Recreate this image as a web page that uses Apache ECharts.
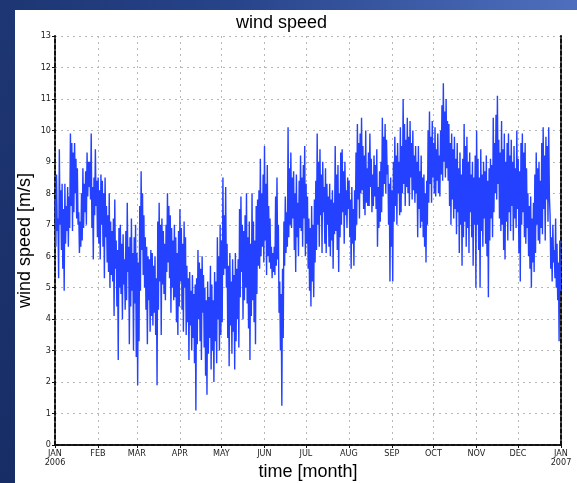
<!DOCTYPE html>
<html>
<head>
<meta charset="utf-8">
<script src="https://cdn.jsdelivr.net/npm/echarts@6/dist/echarts.min.js"></script>
<style>
  html, body { margin: 0; padding: 0; }
  body { width: 577px; height: 483px; position: relative; overflow: hidden;
         background: linear-gradient(to right, #1d3572 0%, #27448a 40%, #4f6fbe 100%); }
  #side { position: absolute; left: 0; top: 0; width: 15px; height: 483px;
          background: linear-gradient(to bottom, #1e3673 0%, #172d66 100%); }
  #paper { position: absolute; left: 15px; top: 10px; right: 0; bottom: 0; background: #fff; }
  #chart { position: absolute; left: 0; top: 0; width: 577px; height: 483px; }
</style>
</head>
<body>
<div id="side"></div>
<div id="paper"></div>
<div id="chart"></div>
<script>
// Wind speed 2006, two readings per day (m/s), one array per month
const jan = [7.8,6.3, 8.6,6.8, 7.2,5.3, 9.4,7.0, 8.1,6.2, 8.3,5.6, 7.5,4.9, 8.3,6.4, 7.6,6.8, 8.2,6.3, 7.9,6.9, 9.9,7.6, 9.6,6.8, 9.3,7.4, 9.6,8.0, 9.1,7.2, 8.8,7.0, 7.4,6.1, 7.1,6.3, 8.0,6.5, 8.8,6.9, 8.3,7.4, 8.7,7.0, 9.3,7.9, 9.0,8.2, 9.0,7.8, 9.9,6.9, 8.2,5.9, 8.5,7.3, 9.4,7.6, 8.4,6.6];
const feb = [8.5,6.4, 8.1,5.9, 8.6,7.0, 8.4,6.3, 8.0,5.3, 8.5,6.6, 7.6,5.8, 7.3,5.5, 8.0,5.0, 7.1,5.4, 6.8,5.2, 7.2,4.1, 7.8,5.6, 6.5,4.4, 6.2,2.7, 6.9,5.0, 7.0,4.8, 6.4,4.0, 6.7,5.1, 5.9,4.3, 6.8,4.6, 7.7,5.5, 6.3,3.2, 6.6,4.4, 7.2,4.9, 6.1,3.0, 6.6,4.5, 7.0,2.8];
const mar = [6.1,1.9, 5.8,3.3, 7.6,4.9, 8.7,6.2, 8.0,5.4, 7.3,5.0, 6.6,4.3, 6.3,3.2, 6.0,4.6, 5.9,3.6, 6.2,4.1, 6.1,3.8, 5.7,4.2, 6.0,3.5, 5.3,1.9, 7.1,4.3, 7.7,5.2, 7.0,3.5, 7.2,5.1, 6.8,4.8, 6.4,4.6, 7.0,5.5, 8.0,5.8, 7.6,5.3, 7.3,4.2, 6.9,5.0, 6.5,4.6, 7.0,4.7, 6.6,3.9, 6.1,3.5, 6.8,4.4];
const apr = [7.5,5.2, 6.9,4.3, 6.4,3.6, 7.1,5.0, 6.6,3.5, 5.7,3.9, 5.3,2.7, 5.5,3.8, 4.9,3.0, 5.4,3.4, 4.8,2.6, 5.1,1.1, 5.3,3.2, 6.2,4.0, 5.8,3.3, 5.6,2.7, 6.0,4.2, 5.4,3.1, 5.0,2.2, 4.6,1.6, 5.2,2.9, 4.7,3.4, 5.7,2.4, 5.1,3.0, 4.6,2.0, 5.5,3.3, 5.2,2.6, 6.6,4.0, 6.0,3.0, 7.0,3.5];
const may = [6.5,3.9, 8.5,5.4, 7.3,5.6, 8.2,5.0, 6.4,3.4, 5.7,2.5, 6.1,3.8, 5.2,2.9, 5.9,3.6, 5.4,2.4, 6.1,3.3, 5.6,4.0, 5.9,3.1, 7.5,4.7, 7.9,5.5, 7.0,4.0, 6.8,4.6, 7.3,5.0, 8.0,4.5, 6.6,3.7, 7.1,2.7, 6.4,4.1, 8.0,4.6, 7.1,3.9, 6.5,3.2, 7.6,4.8, 7.8,5.7, 8.1,5.6, 9.1,6.0, 8.0,6.3, 8.6,5.8];
const jun = [9.5,6.5, 8.3,5.4, 8.9,6.0, 7.6,5.8, 7.2,5.6, 6.3,5.3, 6.1,5.5, 6.3,5.4, 7.9,5.7, 8.5,5.9, 7.0,4.2, 5.2,3.0, 4.8,1.25, 5.6,3.4, 7.1,5.7, 7.9,6.1, 7.4,6.3, 10.1,6.6, 8.8,7.0, 9.3,6.9, 8.5,7.2, 8.7,6.2, 8.0,5.5, 8.6,6.6, 7.7,6.0, 8.4,6.9, 9.2,6.8, 8.5,6.3, 8.9,7.2, 9.5,6.0];
const jul = [8.3,6.4, 7.9,5.6, 7.2,4.9, 6.9,4.4, 7.6,5.2, 7.0,4.7, 7.8,5.8, 8.4,6.2, 9.9,7.0, 9.0,6.3, 9.4,7.3, 8.6,6.1, 9.0,7.4, 8.2,6.4, 8.8,6.1, 8.3,7.0, 7.9,6.3, 8.3,6.0, 7.8,6.5, 8.1,5.6, 7.7,6.7, 9.5,6.8, 8.6,6.2, 8.9,5.5, 8.0,6.6, 9.3,7.0, 9.4,7.4, 8.7,6.4, 9.0,7.3, 8.1,6.9, 8.5,7.5];
const aug = [8.4,6.6, 7.8,5.6, 8.2,6.4, 7.5,5.7, 8.1,6.5, 9.3,7.0, 10.2,7.8, 9.6,7.2, 9.9,8.0, 10.4,8.1, 9.5,7.5, 9.2,7.3, 10.0,7.7, 8.8,7.6, 9.3,7.6, 9.9,8.2, 9.1,7.4, 8.6,7.6, 9.2,7.9, 8.9,7.5, 9.4,6.3, 8.2,6.9, 8.7,7.1, 9.0,7.4, 10.4,7.9, 9.8,8.3, 10.2,8.0, 9.7,8.6, 8.9,7.0, 8.3,5.2, 8.5,6.3];
const sep = [8.1,5.2, 9.0,7.1, 9.8,7.6, 9.2,7.0, 9.6,8.0, 9.0,7.3, 10.1,7.4, 9.5,8.0, 11.0,8.3, 10.2,7.6, 9.7,8.2, 10.4,8.0, 9.8,7.6, 10.3,8.5, 9.6,7.8, 10.0,8.1, 9.2,7.7, 9.5,8.0, 9.0,6.6, 9.5,7.5, 8.7,6.9, 9.2,7.1, 8.5,6.6, 8.6,6.3, 8.0,5.8, 8.4,7.0, 10.0,7.7, 10.6,8.3, 9.8,7.7, 10.3,8.5];
const oct = [9.6,8.0, 10.1,7.9, 9.4,8.4, 9.9,8.0, 9.2,7.9, 10.0,8.6, 10.8,8.4, 11.5,9.0, 10.6,8.5, 11.0,8.8, 10.3,8.4, 10.2,7.6, 9.6,7.0, 9.9,7.8, 9.4,7.2, 9.8,7.5, 9.1,6.7, 9.6,7.4, 8.8,6.1, 9.3,7.0, 8.6,5.7, 9.1,6.6, 10.2,7.1, 9.5,6.3, 9.8,6.9, 9.0,6.1, 9.3,7.4, 8.6,6.6, 9.0,5.7, 8.5,7.0, 9.2,5.0];
const nov = [10.0,7.0, 9.1,6.2, 8.5,5.0, 9.4,6.8, 8.6,6.3, 9.0,7.2, 8.7,6.4, 9.2,6.0, 8.4,4.7, 8.8,6.5, 9.1,7.2, 8.9,6.6, 10.4,7.4, 9.6,8.0, 10.5,7.8, 11.1,8.3, 9.7,7.2, 9.3,6.8, 10.3,7.0, 9.4,6.2, 9.9,5.9, 9.0,7.1, 9.6,6.5, 9.9,7.4, 9.2,6.8, 9.7,7.6, 9.0,6.5, 9.5,7.2, 8.8,6.9, 10.0,7.5];
const dec = [9.1,6.1, 8.7,5.2, 9.6,7.0, 9.9,7.4, 9.3,6.6, 9.6,6.4, 8.8,6.9, 8.0,6.0, 7.6,5.6, 7.9,5.0, 7.2,5.8, 7.7,5.5, 8.6,6.1, 9.3,7.0, 8.8,6.5, 9.0,6.4, 8.4,6.9, 9.6,6.7, 10.1,7.5, 9.2,6.5, 9.8,7.8, 9.5,7.1, 10.1,7.9, 7.3,5.6, 6.6,5.2, 7.0,5.8, 6.2,5.3, 7.2,5.0, 6.4,4.6, 5.8,3.3, 6.5,4.9];

const monthNames = ['JAN','FEB','MAR','APR','MAY','JUN','JUL','AUG','SEP','OCT','NOV','DEC'];
const startTime = Date.UTC(2006, 0, 1);
const endTime = Date.UTC(2007, 0, 1);
const step = 12 * 3600 * 1000;   // readings are 12 hours apart

const speeds = [].concat(jan, feb, mar, apr, may, jun, jul, aug, sep, oct, nov, dec);
const seriesData = speeds.map((v, i) => [startTime + 3 * 3600 * 1000 + i * step, v]);

const chart = echarts.init(document.getElementById('chart'), null, { renderer: 'canvas' });

const tickFont = { fontFamily: 'Liberation Sans Narrow, DejaVu Sans Condensed, sans-serif', fontSize: 9, color: '#222' };
const frameLine = { show: true, lineStyle: { color: '#111', width: 2, type: [4, 2] } };
const gridLine = { show: true, lineStyle: { color: '#b8b8b8', width: 1, type: [2, 4] } };

chart.setOption({
  useUTC: true,
  backgroundColor: 'transparent',
  animation: false,
  title: {
    text: 'wind speed',
    left: 231, top: 9,
    textStyle: { fontFamily: 'Liberation Sans, sans-serif', fontSize: 18, fontWeight: 'normal', color: '#000' }
  },
  grid: { left: 55, right: 16, top: 36, bottom: 38, containLabel: false, outerBoundsMode: 'none' },
  xAxis: [{
    type: 'time',
    min: startTime, max: endTime,
    minInterval: 28 * 86400000, maxInterval: 31 * 86400000,
    name: 'time [month]', nameLocation: 'middle', nameGap: 18, nameMoveOverlap: false,
    nameTextStyle: { fontFamily: 'Liberation Sans, sans-serif', fontSize: 18, color: '#000', verticalAlign: 'top' },
    axisLine: frameLine,
    axisTick: { show: true, length: 3, lineStyle: { color: '#111' } },
    axisLabel: Object.assign({
      margin: 4, lineHeight: 9, showMinLabel: true, showMaxLabel: true, hideOverlap: false,
      formatter: function (value) {
        const d = new Date(value);
        const m = d.getUTCMonth();
        return m === 0 ? 'JAN\n' + d.getUTCFullYear() : monthNames[m];
      }
    }, tickFont),
    splitLine: gridLine
  }, {
    type: 'time', position: 'top',
    min: startTime, max: endTime,
    axisLine: frameLine, axisTick: { show: false }, axisLabel: { show: false }, splitLine: { show: false }
  }],
  yAxis: [{
    type: 'value', min: 0, max: 13, interval: 1,
    name: 'wind speed [m/s]', nameLocation: 'middle', nameGap: 21, nameRotate: 90, nameMoveOverlap: false,
    nameTextStyle: { fontFamily: 'Liberation Sans, sans-serif', fontSize: 18, color: '#000', verticalAlign: 'bottom' },
    axisLine: frameLine,
    axisTick: { show: true, length: 3, lineStyle: { color: '#111' } },
    axisLabel: Object.assign({ margin: 4 }, tickFont),
    splitLine: gridLine
  }, {
    type: 'value', position: 'right', min: 0, max: 13,
    axisLine: frameLine, axisTick: { show: false }, axisLabel: { show: false }, splitLine: { show: false }
  }],
  series: [{
    type: 'line',
    data: seriesData,
    showSymbol: false,
    symbol: 'none',
    sampling: null,
    lineStyle: { color: '#2341ff', width: 1.4 },
    z: 1
  }]
});
</script>
</body>
</html>
